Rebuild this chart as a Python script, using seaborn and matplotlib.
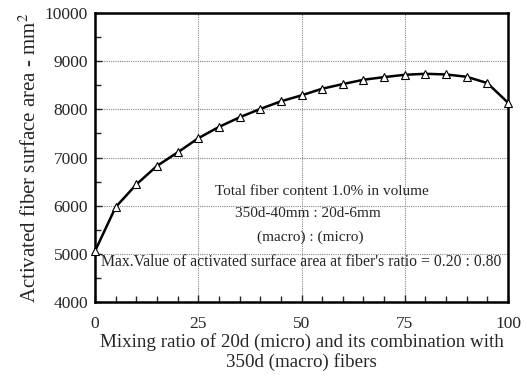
import matplotlib
matplotlib.use("Agg")
import matplotlib.pyplot as plt
import seaborn as sns
import pandas as pd
from matplotlib.ticker import MultipleLocator

ratio = [0, 5, 10, 15, 20, 25, 30, 35, 40, 45, 50, 55, 60, 65, 70, 75, 80, 85, 90, 95, 100]
area = [5056, 5970, 6440, 6825, 7105, 7400, 7634, 7834, 8007, 8166, 8290, 8428, 8524,
        8614, 8669, 8717, 8738, 8724, 8676, 8545, 8138]

df = pd.DataFrame({"ratio": ratio, "area": area})

sns.set_style("white")
plt.rcParams["font.family"] = ["Liberation Serif", "DejaVu Serif"]
plt.rcParams["mathtext.fontset"] = "stix"

fig = plt.figure(figsize=(5.27, 3.87), dpi=100)
ax = fig.add_axes([95 / 527, 1 - 302 / 387, (508 - 95) / 527, (302 - 13) / 387])

sns.lineplot(data=df, x="ratio", y="area", ax=ax, color="black", linewidth=1.8,
             marker="^", markersize=6, markerfacecolor="white",
             markeredgecolor="black", markeredgewidth=0.8, clip_on=False, zorder=3)

ax.set_xlim(0, 100)
ax.set_ylim(4000, 10000)
ax.xaxis.set_major_locator(MultipleLocator(25))
ax.xaxis.set_minor_locator(MultipleLocator(5))
ax.yaxis.set_major_locator(MultipleLocator(1000))
ax.yaxis.set_minor_locator(MultipleLocator(500))
ax.grid(True, which="major", color="#888888", linestyle=(0, (1, 1)), linewidth=0.8)
ax.tick_params(which="both", direction="in", top=False, right=False, left=True, bottom=True,
               labelsize=12.5)
ax.tick_params(which="major", length=5, width=1)
ax.tick_params(which="minor", length=4, width=1)
ax.tick_params(axis="x", which="major", pad=10)
ax.tick_params(axis="y", which="major", pad=5)
for s in ax.spines.values():
    s.set_linewidth(1.8)
    s.set_color("black")

ax.set_xlabel("Mixing ratio of 20d (micro) and its combination with\n350d (macro) fibers",
              fontsize=13.7, linespacing=1.1, labelpad=1)
ax.set_ylabel("Activated fiber surface area - mm$^2$", fontsize=15, labelpad=3)

ax.text(55, 6293, "Total fiber content 1.0% in volume", ha="center", va="center", fontsize=11)
ax.text(51.6, 5830, "350d-40mm : 20d-6mm", ha="center", va="center", fontsize=11)
ax.text(52, 5353, "(macro) : (micro)", ha="center", va="center", fontsize=11)
ax.text(50, 4840, "Max.Value of activated surface area at fiber's ratio = 0.20 : 0.80",
        ha="center", va="center", fontsize=11.3)

fig.savefig("out.png", dpi=100)
